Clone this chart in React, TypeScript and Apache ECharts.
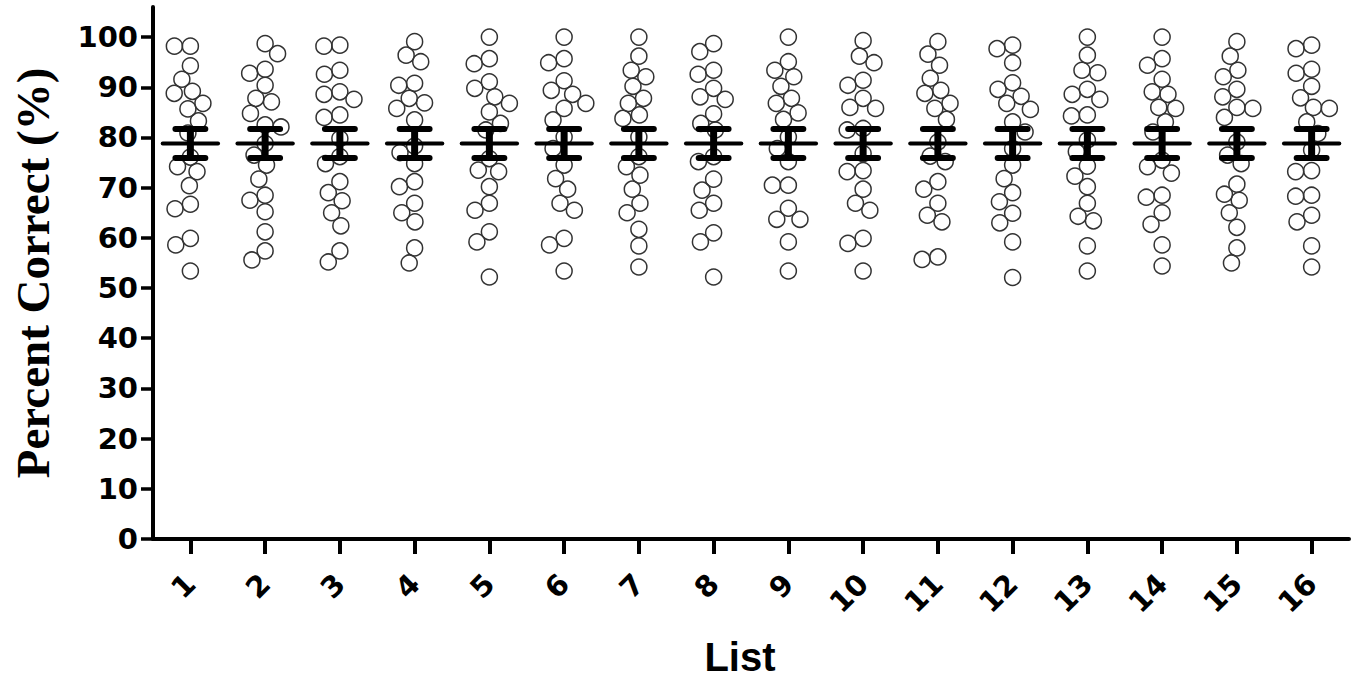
import React, { useEffect, useRef } from 'react';
import * as echarts from 'echarts';

const categories = ['1', '2', '3', '4', '5', '6', '7', '8', '9', '10', '11', '12', '13', '14', '15', '16'];
const yTicks = [0, 10, 20, 30, 40, 50, 60, 70, 80, 90, 100];

const list1 = [98.2, 98.2, 94.3, 91.6, 89.2, 88.8, 86.8, 85.7, 83.3, 80.9, 76.1, 74.2, 73.2, 70.4, 66.7, 65.8, 59.9, 58.6, 53.4];
const list2 = [98.7, 96.7, 93.6, 92.8, 90.4, 87.8, 87.1, 84.8, 82.5, 82.1, 78.8, 76.5, 74.5, 71.7, 68.5, 67.5, 65.2, 61.2, 57.4, 55.6];
const list3 = [98.4, 98.2, 93.4, 92.6, 89.1, 88.6, 87.6, 84.5, 84.0, 79.8, 76.2, 74.8, 71.2, 69.0, 67.4, 65.0, 62.4, 57.4, 55.2];
const list4 = [99.1, 96.4, 95.1, 90.8, 90.4, 87.8, 86.9, 85.8, 83.5, 78.3, 77.0, 74.8, 71.2, 70.2, 66.9, 65.0, 63.2, 58.0, 55.0];
const list5 = [100, 95.7, 94.7, 91.1, 89.8, 88.1, 86.8, 85.1, 82.8, 81.5, 75.8, 73.5, 73.2, 70.2, 66.9, 65.5, 61.2, 59.2, 52.2];
const list6 = [100, 95.7, 94.9, 91.3, 89.4, 88.6, 86.8, 85.8, 83.5, 80.1, 77.8, 74.5, 71.8, 69.7, 66.9, 65.5, 59.9, 58.6, 53.4];
const list7 = [100, 96.2, 93.4, 92.1, 90.2, 87.8, 86.8, 84.5, 83.8, 80.1, 76.2, 74.2, 72.5, 69.7, 66.9, 65.0, 61.7, 58.4, 54.2];
const list8 = [98.7, 97.1, 93.4, 92.6, 89.8, 88.1, 87.6, 84.7, 82.8, 81.5, 76.2, 75.2, 71.7, 69.5, 66.9, 65.5, 61.0, 59.2, 52.2];
const list9 = [100, 95.1, 93.4, 92.1, 90.2, 87.8, 86.8, 84.9, 83.6, 80.1, 77.8, 75.2, 70.5, 70.5, 65.9, 63.7, 63.7, 59.2, 53.4];
const list10 = [99.3, 96.2, 94.9, 91.4, 90.4, 87.8, 86.0, 85.8, 81.8, 81.5, 76.8, 73.4, 73.2, 69.7, 66.9, 65.5, 59.9, 58.9, 53.4];
const list11 = [99.1, 96.6, 94.4, 91.8, 89.4, 88.8, 86.8, 85.8, 83.6, 79.1, 76.3, 75.2, 71.2, 69.7, 66.9, 64.5, 63.2, 56.2, 55.7];
const list12 = [98.4, 97.7, 94.9, 90.9, 89.6, 88.2, 86.8, 85.6, 83.1, 81.1, 77.8, 74.5, 71.8, 69.0, 67.2, 64.9, 63.0, 59.2, 52.1];
const list13 = [100, 96.4, 93.4, 92.9, 89.6, 88.6, 87.6, 84.5, 84.3, 79.5, 77.2, 74.3, 72.3, 70.2, 66.9, 64.3, 63.4, 58.4, 53.4];
const list14 = [100, 95.7, 94.4, 91.6, 89.1, 88.6, 86.0, 85.8, 83.1, 81.1, 75.5, 74.2, 72.9, 68.5, 68.1, 65.0, 62.7, 58.6, 54.4];
const list15 = [99.1, 96.2, 93.4, 92.1, 89.6, 88.1, 86.0, 85.8, 84.0, 79.1, 76.5, 74.8, 70.7, 68.7, 67.5, 65.0, 62.1, 58.0, 55.0];
const list16 = [98.4, 97.7, 93.6, 92.8, 90.2, 87.9, 86.0, 85.8, 83.1, 80.8, 77.5, 73.4, 73.2, 68.5, 68.3, 64.5, 63.2, 58.4, 54.2];

const groups = [list1, list2, list3, list4, list5, list6, list7, list8, list9, list10, list11, list12, list13, list14, list15, list16];

const means = [78.8, 78.8, 78.8, 78.8, 78.8, 78.8, 78.8, 78.8, 78.8, 78.8, 78.8, 78.8, 78.8, 78.8, 78.8, 78.8];
const sems = [2.9, 2.9, 2.9, 2.9, 2.9, 2.9, 2.9, 2.9, 2.9, 2.9, 2.9, 2.9, 2.9, 2.9, 2.9, 2.9];

export default function App() {
  const ref = useRef<HTMLDivElement>(null);

  useEffect(() => {
    document.body.style.margin = '0';
    const chart = echarts.init(ref.current as HTMLDivElement, null, { renderer: 'svg' });

    const scatterData: number[][] = [];
    groups.forEach((g, i) => g.forEach((v) => scatterData.push([i, v])));
    const errData = means.map((m, i) => [i, m, m - sems[i], m + sems[i]]);

    const labelFont = {
      fontFamily: 'DejaVu Sans',
      fontWeight: 'bold' as const,
      fontSize: 29,
      color: '#000',
    };

    chart.setOption({
      animation: false,
      backgroundColor: '#fff',
      grid: { left: 153, right: 14, top: 7, bottom: 142, containLabel: false, outerBoundsMode: 'none' },
      xAxis: {
        type: 'category',
        data: categories,
        boundaryGap: true,
        jitter: 60,
        jitterOverlap: false,
        jitterMargin: 0,
        axisLine: { show: true, lineStyle: { color: '#000', width: 4 } },
        axisTick: { show: true, alignWithLabel: true, length: 15, lineStyle: { color: '#000', width: 4 } },
        axisLabel: { ...labelFont, rotate: 45, margin: 40, interval: 0 },
        splitLine: { show: false },
        name: 'List',
        nameLocation: 'middle',
        nameGap: 98,
        nameTextStyle: {
          fontFamily: 'Liberation Sans',
          fontWeight: 'bold',
          fontSize: 40,
          color: '#000',
          padding: [0, 22, 0, 0],
        },
      },
      yAxis: {
        type: 'value',
        min: 0,
        max: 106,
        axisLine: { show: true, lineStyle: { color: '#000', width: 4 } },
        axisTick: { show: true, length: 12, customValues: yTicks, lineStyle: { color: '#000', width: 3.5 } },
        axisLabel: { ...labelFont, margin: 15, customValues: yTicks },
        splitLine: { show: false },
        name: 'Percent Correct (%)',
        nameLocation: 'middle',
        nameGap: 97,
        nameTextStyle: {
          fontFamily: 'Liberation Serif',
          fontWeight: 'bold',
          fontSize: 47,
          color: '#000',
        },
      },
      series: [
        {
          type: 'scatter',
          data: scatterData,
          symbol: 'circle',
          symbolSize: 16,
          z: 2,
          itemStyle: { color: 'rgba(255,255,255,0)', borderColor: '#333', borderWidth: 1.5, opacity: 1 },
        },
        {
          type: 'custom',
          data: errData,
          encode: { x: 0, y: [1, 2, 3] },
          z: 5,
          renderItem: (params: any, api: any) => {
            const x = api.value(0);
            const c = api.coord([x, api.value(1)]);
            const lo = api.coord([x, api.value(2)]);
            const hi = api.coord([x, api.value(3)]);
            const bw = api.size([1, 0])[0];
            const meanHalf = bw * 0.37;
            const capHalf = bw * 0.2;
            const st = { stroke: '#000', fill: 'none' };
            return {
              type: 'group',
              children: [
                { type: 'line', shape: { x1: c[0], y1: hi[1], x2: c[0], y2: lo[1] }, style: { ...st, lineWidth: 7 } },
                { type: 'line', shape: { x1: c[0] - capHalf, y1: hi[1], x2: c[0] + capHalf, y2: hi[1] }, style: { ...st, lineWidth: 6, lineCap: 'round' } },
                { type: 'line', shape: { x1: c[0] - capHalf, y1: lo[1], x2: c[0] + capHalf, y2: lo[1] }, style: { ...st, lineWidth: 6, lineCap: 'round' } },
                { type: 'line', shape: { x1: c[0] - meanHalf, y1: c[1], x2: c[0] + meanHalf, y2: c[1] }, style: { ...st, lineWidth: 4, lineCap: 'round' } },
              ],
            };
          },
        },
      ],
    });

    return () => chart.dispose();
  }, []);

  return <div ref={ref} style={{ width: 1363, height: 681 }} />;
}
